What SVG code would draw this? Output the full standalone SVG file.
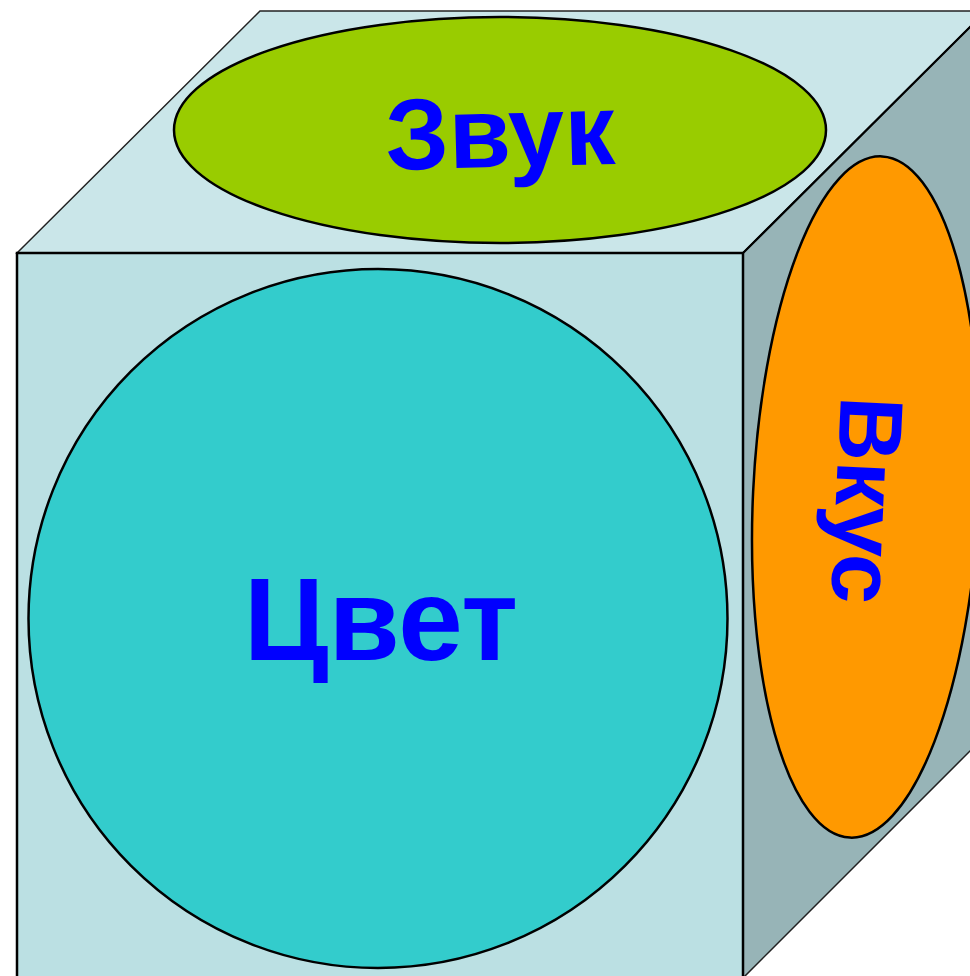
<svg xmlns="http://www.w3.org/2000/svg" width="970" height="976" viewBox="0 0 970 976">
<style>
.face{stroke:#222;stroke-width:1.5;stroke-linejoin:miter}
.front{fill:#BBE0E3;stroke:#000;stroke-width:2.5}
.edge{stroke:#000;stroke-width:2.2;fill:none}
.shape{stroke:#000;stroke-width:2.5}
.lbl{font-family:"Liberation Sans",Arial,sans-serif;font-weight:bold;fill:#0000FF;text-anchor:middle}
</style>
<rect width="970" height="976" fill="#FFFFFF"/>
<g id="cube">
<polygon class="face" points="17,253 260,11 986,11 743,253" fill="#CAE6E9"/>
<polygon class="face" points="743,253 986,11 986,735 743,978" fill="#97B4B7"/>
<rect class="front" x="17" y="253" width="726" height="725"/>
<line class="edge" x1="743" y1="253" x2="986" y2="11"/>
</g>
<g id="zvuk">
<ellipse class="shape" cx="500" cy="130" rx="326" ry="113" fill="#99CC00"/>
<text class="lbl" x="501" y="167" font-size="101" transform="rotate(-1.5 501 167)">Звук</text>
</g>
<g id="tsvet">
<circle class="shape" cx="378" cy="618.5" r="349.5" fill="#33CCCC"/>
<text class="lbl" x="381" y="660" font-size="116">Цвет</text>
</g>
<g id="vkus">
<ellipse class="shape" cx="866" cy="497" rx="113" ry="341" fill="#FF9900" transform="rotate(2.7 866 497)"/>
<text class="lbl" x="0" y="0" font-size="90" transform="translate(836 499) rotate(92.7)">Вкус</text>
</g>
</svg>
